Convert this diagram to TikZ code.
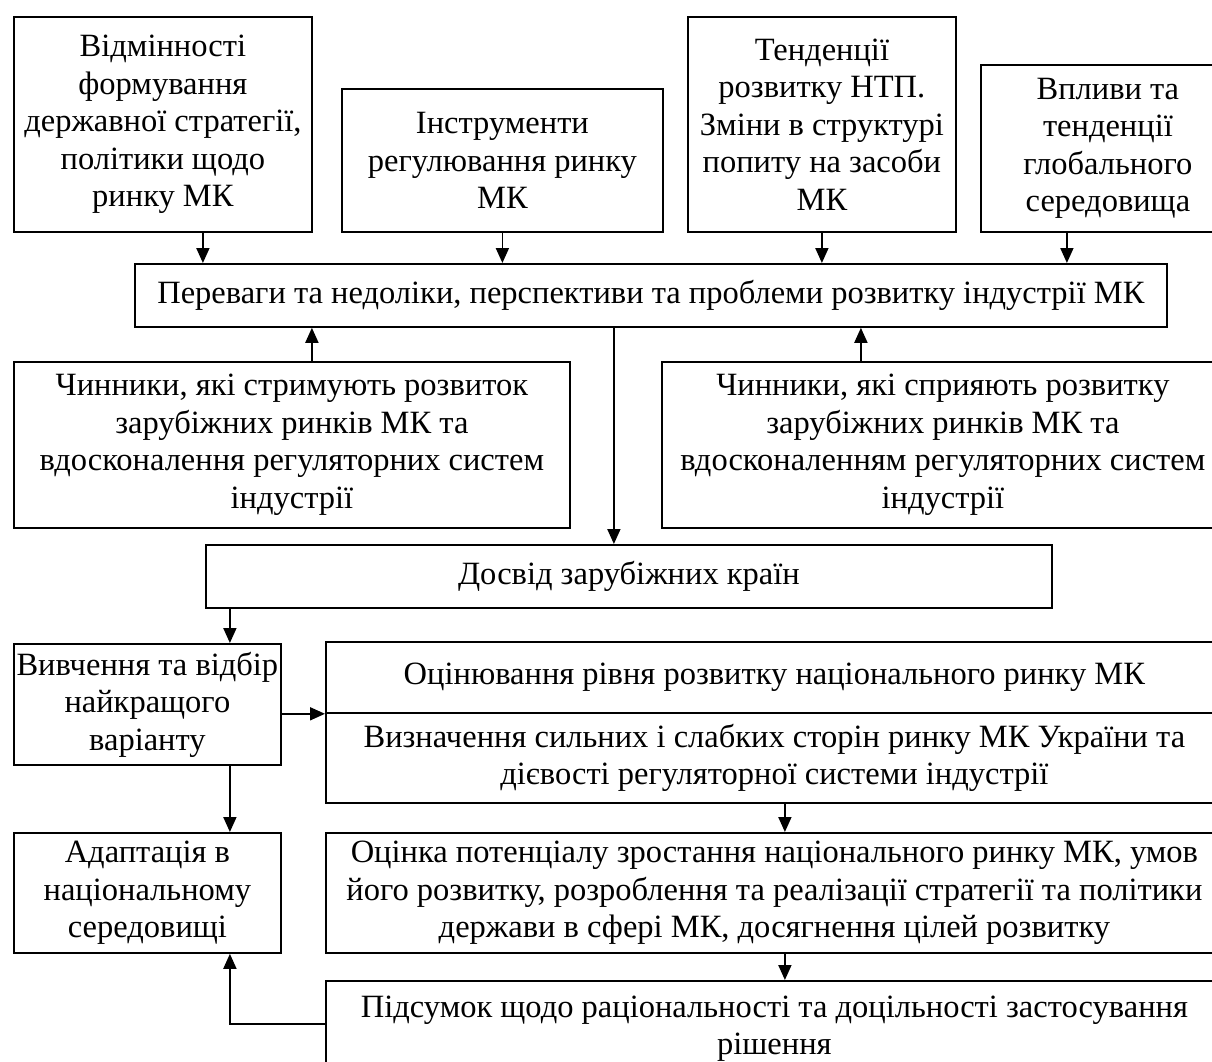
\documentclass[tikz,border=0pt]{standalone}
\usepackage{fontspec}
\setmainfont{Liberation Serif}
\usetikzlibrary{arrows.meta}
\begin{document}
\begin{tikzpicture}[x=1pt,y=-1pt,
  box/.style={draw, line width=1.8pt, anchor=north west, inner sep=0pt,
    align=center, font=\fontsize{32.5}{37.5}\selectfont},
  arr/.style={line width=1.8pt, -{Triangle[width=13pt,length=15pt]}}]
\useasboundingbox (0,0) rectangle (1212,1061);
\clip (0,0) rectangle (1212,1061);
\fill[white] (0,0) rectangle (1212,1061);

% top row of sources
\node[box, minimum width=298pt, minimum height=215pt] (b1) at (13,16)
  {Відмінності\\формування\\державної стратегії,\\політики щодо\\ринку МК};
\node[box, minimum width=321pt, minimum height=143pt] (b2) at (341,88)
  {Інструменти\\регулювання ринку\\МК};
\node[box, minimum width=268pt, minimum height=215pt] (b3) at (687,16)
  {Тенденції\\розвитку НТП.\\Зміни в структурі\\попиту на засоби\\МК};
\node[box, minimum width=254pt, minimum height=167pt] (b4) at (980,64)
  {Впливи та\\тенденції\\глобального\\середовища};

% central assessment
\node[box, minimum width=1032pt, minimum height=63pt] (pv) at (134,263)
  {Переваги та недоліки, перспективи та проблеми розвитку індустрії МК};

% factors
\node[box, minimum width=556pt, minimum height=166pt] (lc) at (13,361)
  {Чинники, які стримують розвиток\\зарубіжних ринків МК та\\вдосконалення регуляторних систем\\індустрії};
\node[box, minimum width=562pt, minimum height=166pt] (rc) at (661,361)
  {Чинники, які сприяють розвитку\\зарубіжних ринків МК та\\вдосконаленням регуляторних систем\\індустрії};

\node[box, minimum width=846pt, minimum height=63pt] (dos) at (205,544)
  {Досвід зарубіжних країн};

% lower part
\node[box, minimum width=267pt, minimum height=121pt] (vv) at (13,643)
  {Вивчення та відбір\\найкращого\\варіанту};
\node[box, minimum width=897pt, minimum height=71pt] (oc) at (325,641)
  {Оцінювання рівня розвитку національного ринку МК};
\node[box, minimum width=897pt, minimum height=90pt] (vz) at (325,712)
  {Визначення сильних і слабких сторін ринку МК України та\\дієвості регуляторної системи індустрії};
\node[box, minimum width=267pt, minimum height=120pt] (ad) at (13,832)
  {Адаптація в\\національному\\середовищі};
\node[box, minimum width=897pt, minimum height=120pt] (ok) at (325,832)
  {Оцінка потенціалу зростання національного ринку МК, умов\\його розвитку, розроблення та реалізації стратегії та політики\\держави в сфері МК, досягнення цілей розвитку};
\node[box, minimum width=897pt, minimum height=96pt] (ps) at (325,980)
  {Підсумок щодо раціональності та доцільності застосування\\рішення};

% connectors
\draw[arr] ([xshift=40pt]b1.south) -- ([xshift=40pt]b1.south |- pv.north);
\draw[arr] (b2.south) -- (b2.south |- pv.north);
\draw[arr] (b3.south) -- (b3.south |- pv.north);
\draw[arr] ([xshift=-41pt]b4.south) -- ([xshift=-41pt]b4.south |- pv.north);
\draw[arr] ([xshift=20pt]lc.north) -- ([xshift=20pt]lc.north |- pv.south);
\draw[arr] ([xshift=-82pt]rc.north) -- ([xshift=-82pt]rc.north |- pv.south);
\draw[arr] ([xshift=-37pt]pv.south) -- ([xshift=-37pt]pv.south |- dos.north);
\draw[arr] ([xshift=82.5pt]vv.north |- dos.south) -- ([xshift=82.5pt]vv.north);
\draw[arr] (vv.east |- oc.south) -- (oc.south west);
\draw[arr] ([xshift=82.5pt]vv.south) -- ([xshift=82.5pt]vv.south |- ad.north);
\draw[arr] ([xshift=10.5pt]vz.south) -- ([xshift=10.5pt]vz.south |- ok.north);
\draw[arr] ([xshift=10.5pt]ok.south) -- ([xshift=10.5pt]ok.south |- ps.north);
\draw[arr] ([yshift=-44pt]ps.north west) -| ([xshift=82.5pt]ad.south);
\end{tikzpicture}
\end{document}
